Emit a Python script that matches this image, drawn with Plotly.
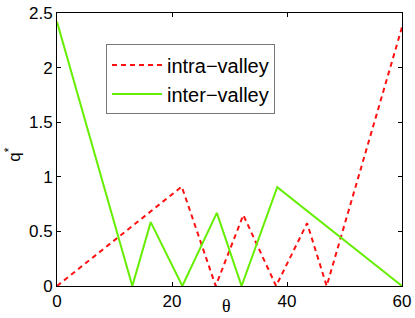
import plotly.graph_objects as go

intra_theta = [0, 21.7, 27.6, 32.4, 38.1, 43.5, 46.9, 60]
intra_q = [0, 0.91, 0, 0.65, 0, 0.575, 0, 2.37]
inter_theta = [0, 13.1, 16.3, 21.8, 27.8, 32.1, 38.3, 60]
inter_q = [2.42, 0, 0.585, 0, 0.67, 0, 0.905, 0]
x_ticks = [0, 20, 40, 60]
y_ticks = [0, 0.5, 1, 1.5, 2, 2.5]

fig = go.Figure()
fig.add_trace(go.Scatter(x=intra_theta, y=intra_q, mode="lines", name="intra\u2212valley",
                         line=dict(color="#ff1010", width=2, dash="5px,4px")))
fig.add_trace(go.Scatter(x=inter_theta, y=inter_q, mode="lines", name="inter\u2212valley",
                         line=dict(color="#66ee00", width=2)))

axis_common = dict(showgrid=False, zeroline=False, showline=True, linecolor="black", linewidth=1,
                   mirror="ticks", ticks="inside", ticklen=4, tickcolor="black",
                   tickfont=dict(family="Liberation Sans, Arial", size=17, color="black"))
fig.update_xaxes(range=[0, 60], tickvals=x_ticks, ticktext=[str(v) for v in x_ticks], **axis_common)
fig.update_yaxes(range=[0, 2.5], tickvals=y_ticks, ticktext=[str(v) for v in y_ticks], **axis_common)

fig.update_layout(
    width=415, height=318,
    margin=dict(l=57, r=13, t=13, b=32, autoexpand=False),
    plot_bgcolor="white", paper_bgcolor="white",
    showlegend=True,
    legend=dict(x=0.142, y=0.885, xanchor="left", yanchor="top",
                bordercolor="#777777", borderwidth=1, bgcolor="white",
                font=dict(family="Liberation Sans, Arial", size=20, color="black"),
                itemwidth=50, tracegroupgap=0),
    annotations=[
        dict(text="\u03b8", x=0.49, y=-0.075, xref="paper", yref="paper", showarrow=False,
             xanchor="center", yanchor="middle",
             font=dict(family="Liberation Serif, Times New Roman", size=18, color="black")),
        dict(text="q<sup>*</sup>", x=-0.128, y=0.48, xref="paper", yref="paper", showarrow=False,
             textangle=-90, xanchor="center", yanchor="middle",
             font=dict(family="Liberation Sans, Arial", size=17, color="black")),
    ],
)

fig.write_html("out.html", config={"displayModeBar": False},
               post_script="document.body.style.margin='0px';document.body.style.overflow='hidden';")
